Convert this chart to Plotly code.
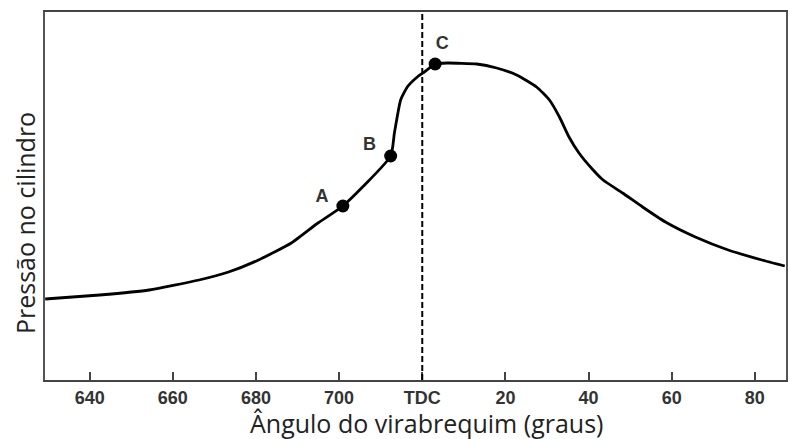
import plotly.graph_objects as go

# Crank angle (degrees, 720 = TDC) and cylinder pressure (arbitrary units)
angle = [629.3, 642.4, 654.3, 666.3, 673.4, 680.6, 688.5, 694.9, 700.9,
         712.4, 713.3, 714.8, 716.4, 718.8, 720.5, 723.1, 726.0, 733.1, 737.9,
         742.7, 747.5, 750.6, 753.0, 755.3, 757.7, 761.1, 763.5, 768.2, 773.0,
         778.5, 785.7, 793.6, 801.7, 807.2]
pressure = [81, 85, 90, 100, 108, 120, 137, 157, 174,
            224, 247, 280, 293, 303, 308, 316, 317, 316, 312,
            305, 293, 280, 263, 243, 227, 210, 200, 187, 173,
            158, 143, 130, 120, 114]

point_angle = [700.9, 712.4, 723.1]
point_pressure = [174, 224, 316]
point_labels = ["A", "B", "C"]
label_angle = [695.9, 707.3, 724.8]
label_pressure = [183, 235, 336]

tick_vals = [640, 660, 680, 700, 720, 740, 760, 780, 800]
tick_text = ["640", "660", "680", "700", "TDC", "20", "40", "60", "80"]
tdc = 720

W, H = 790, 439
l, r, t, b = 45, 2, 12, 59
pw, ph = W - l - r, H - t - b

fig = go.Figure()
fig.add_trace(go.Scatter(x=angle, y=pressure, mode="lines",
                         line=dict(color="black", width=2.8, shape="spline", smoothing=0.5),
                         hoverinfo="skip", showlegend=False))
fig.add_trace(go.Scatter(x=point_angle, y=point_pressure, mode="markers",
                         marker=dict(color="black", size=13),
                         showlegend=False))
fig.add_trace(go.Scatter(x=label_angle, y=label_pressure, mode="text", text=point_labels,
                         textfont=dict(family="Liberation Sans", size=18, color="#333", weight="bold"),
                         textposition="middle center", showlegend=False))

fig.add_shape(type="line", x0=tdc, x1=tdc, y0=0, y1=1, xref="x", yref="paper",
              line=dict(color="black", width=2, dash="6px,3px"))

fig.update_layout(
    width=W, height=H,
    margin=dict(l=l, r=r, t=t, b=b),
    paper_bgcolor="white", plot_bgcolor="white",
    xaxis=dict(range=[629.25, 807.5], tickvals=tick_vals, ticktext=tick_text,
               ticks="inside", ticklen=8, tickcolor="#444", tickwidth=1.5,
               showline=True, linecolor="#444", linewidth=2, mirror=True,
               showgrid=False, zeroline=False,
               tickfont=dict(family="Liberation Sans", size=18, color="#333", weight="bold")),
    yaxis=dict(range=[0, 368], showticklabels=False, ticks="",
               showline=True, linecolor="#555", linewidth=2, mirror=True,
               showgrid=False, zeroline=False),
    annotations=[
        dict(text="Ângulo do virabrequim (graus)",
             x=(428 - l) / pw, y=(H - b - 423) / ph, xref="paper", yref="paper",
             xanchor="center", yanchor="middle", showarrow=False,
             font=dict(family="Open Sans", size=25, color="#222")),
        dict(text="Pressão no cilindro", textangle=-90,
             x=(25 - l) / pw, y=(H - b - 223) / ph, xref="paper", yref="paper",
             xanchor="center", yanchor="middle", showarrow=False,
             font=dict(family="Open Sans", size=25, color="#222")),
    ],
)

fig.write_html("out.html")
